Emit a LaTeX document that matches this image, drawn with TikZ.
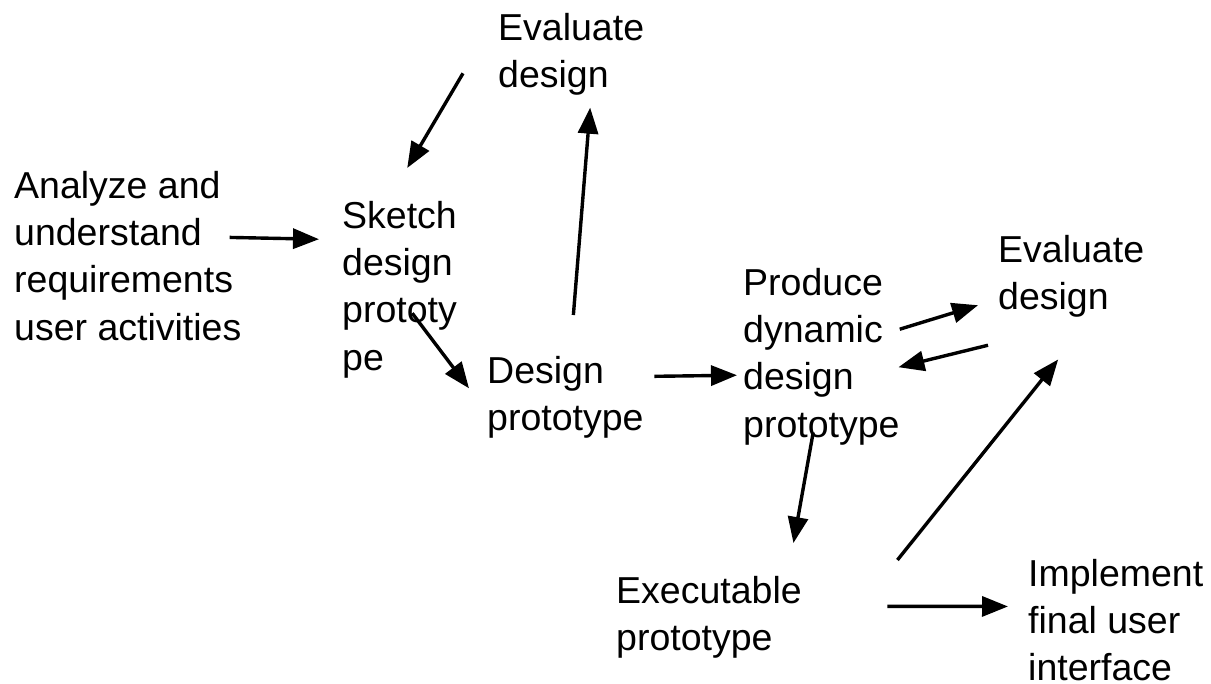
\documentclass[tikz,border=0pt]{standalone}
\usepackage{fontspec}
\setmainfont{Liberation Sans}
\usetikzlibrary{arrows.meta}

\begin{document}
\begin{tikzpicture}[>={Triangle[length=26pt,width=20pt]},x=1pt,y=-1pt]
  \tikzstyle{txt}=[anchor=north west,inner sep=0pt,align=left,font=\fontsize{37.5}{47.3}\selectfont]
  \tikzstyle{arr}=[line width=3.4pt,->]
  \useasboundingbox (0,0) rectangle (1211,684);
  % activities, top left to bottom right
  \node[txt] (analyze) at (14,171) {Analyze and\\understand\\requirements\\user activities};
  \node[txt] (sketch) at (342,201) {Sketch\\design\\prototy\\pe};
  \node[txt] (evaltop) at (498,13) {Evaluate\\design};
  \node[txt] (dproto) at (487,356) {Design\\prototype};
  \node[txt] (produce) at (743,268) {Produce\\dynamic\\design\\prototype};
  \node[txt] (evalright) at (998,235) {Evaluate\\design};
  \node[txt] (exec) at (616,576) {Executable\\prototype};
  \node[txt] (impl) at (1028,559) {Implement\\final user\\interface};
  % flow between them
  \draw[arr] ([shift={(-12,-18.5)}]analyze.east) -- ([shift={(-23,-50.4)}]sketch.west);
  \draw[arr] ([shift={(-35,19)}]evaltop.west) -- ([shift={(7.7,-33)}]sketch.north);
  \draw[arr] ([shift={(12.7,23.6)}]sketch.center) -- ([shift={(-18,-9)}]dproto.west);
  \draw[arr] ([shift={(8,-41)}]dproto.north) -- ([shift={(19,12)}]evaltop.south);
  \draw[arr] ([shift={(10.7,-21)}]dproto.east) -- ([shift={(-6,18.6)}]produce.west);
  \draw[arr] ([shift={(0,-27.4)}]produce.east) -- ([shift={(-20,28.9)}]evalright.west);
  \draw[arr] ([shift={(-10,68.9)}]evalright.west) -- ([shift={(-1.3,10.6)}]produce.east);
  \draw[arr] ([shift={(-8.2,-12.8)}]produce.south) -- ([shift={(-8.5,-33)}]exec.north east);
  \draw[arr] ([shift={(95.5,-16)}]exec.north east) -- ([shift={(-13,41.8)}]evalright.south);
  \draw[arr] ([shift={(85.5,-11)}]exec.east) -- ([shift={(-20,-13.8)}]impl.west);
\end{tikzpicture}
\end{document}
